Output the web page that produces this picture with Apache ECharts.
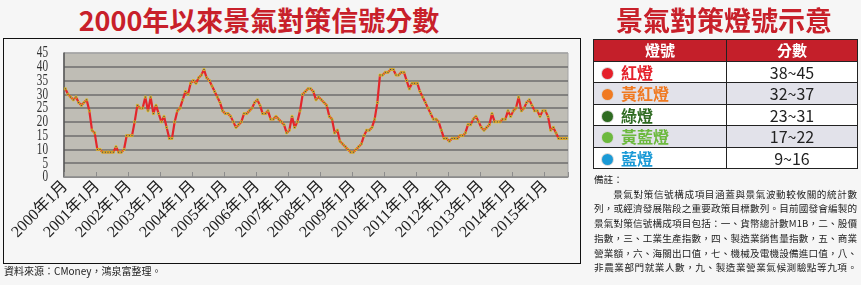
<!DOCTYPE html>
<html><head><meta charset="utf-8">
<script src="https://cdn.jsdelivr.net/npm/echarts@6/dist/echarts.min.js"></script>
<style>
html,body{margin:0;padding:0;background:#f6f6f6;width:861px;height:285px;overflow:hidden;font-family:"Noto Sans CJK TC","Noto Sans",sans-serif;}
.abs{position:absolute;}
#title1{left:0;top:3px;width:518px;text-align:center;font-size:27px;font-weight:bold;color:#c8202a;line-height:34px;}
#title2{left:590px;top:3px;width:268px;text-align:center;font-size:27px;font-weight:bold;color:#c8202a;line-height:34px;}
#frame{left:3px;top:38px;width:578px;height:226px;border:1.5px solid #111;box-sizing:border-box;}
#chart{left:0;top:0;width:861px;height:285px;}
#source{left:4px;top:264px;font-size:10px;color:#222;line-height:14px;}
#tbl{left:593px;top:39px;width:264px;border-collapse:collapse;table-layout:fixed;}
#tbl td,#tbl th{border:1.3px solid #222;padding:0;height:20.5px;line-height:20px;}
#tbl th{background:#c41f2a;color:#fff;font-size:15px;font-weight:bold;text-align:center;}
#tbl td.n{text-align:center;font-size:16px;color:#222;}
#tbl td.l{font-size:16px;font-weight:bold;padding-left:8px;}
.dot{display:inline-block;width:11px;height:11px;border-radius:50%;vertical-align:middle;margin-right:8px;position:relative;top:-1px;box-shadow:0 0 0 1px #d8d8d8;}
#note{left:594px;top:172px;width:263px;font-size:9.6px;color:#222;line-height:14.7px;}
#note div.j{text-align:justify;text-align-last:justify;white-space:nowrap;}
</style></head>
<body>
<div id="frame" class="abs"></div>
<div id="title1" class="abs">2000年以來景氣對策信號分數</div>
<div id="chart" class="abs"></div>
<div id="source" class="abs">資料來源：CMoney，鴻泉富整理。</div>
<div id="title2" class="abs">景氣對策燈號示意</div>
<table id="tbl" class="abs"></table>
<div id="note" class="abs"></div>
<script>
// ---- data ----
var score2000 = [32,30,29,28,29,27,26,27,28,24,17,16];
var score2001 = [10,10,9,9,9,9,9,11,9,9,10,15];
var score2002 = [15,15,20,26,25,25,29,24,29,23,26,23];
var score2003 = [20,22,18,14,14,20,24,25,28,31,30,34];
var score2004 = [35,34,36,37,39,36,35,33,31,29,27,24];
var score2005 = [23,23,22,20,18,19,20,23,23,24,25,27];
var score2006 = [28,26,23,23,24,21,21,22,21,20,19,16];
var score2007 = [17,22,18,20,24,30,31,32,32,31,28,29];
var score2008 = [28,27,26,22,21,16,17,13,12,11,10,9];
var score2009 = [9,10,11,12,15,17,17,18,21,27,37,37];
var score2010 = [38,38,39,39,37,37,38,38,35,32,34,34];
var score2011 = [34,31,29,27,25,23,21,21,20,17,14,14];
var score2012 = [13,14,14,14,15,15,16,19,19,21,22,20];
var score2013 = [18,17,18,19,23,20,20,20,21,21,24,22];
var score2014 = [24,25,29,24,25,27,28,26,24,24,22,24];
var score2015 = [24,22,17,18,16,14,14,14,14];
var startYear = 2000;
var yTicks = [0,5,10,15,20,25,30,35,40,45];

var lightNames = ['紅燈','黃紅燈','綠燈','黃藍燈','藍燈'];
var lightRanges = ['38~45','32~37','23~31','17~22','9~16'];
var lightHeader = ['燈號','分數'];
var noteTitle = '備註：';
var noteLines = [
 '景氣對策信號構成項目涵蓋與景氣波動較攸關的統計數',
 '列，或經濟發展階段之重要政策目標數列。目前國發會編製的',
 '景氣對策信號構成項目包括：一、貨幣總計數M1B，二、股價',
 '指數，三、工業生產指數，四、製造業銷售量指數，五、商業',
 '營業額，六、海關出口值，七、機械及電機設備進口值，八、',
 '非農業部門就業人數，九、製造業營業氣候測驗點等九項。'
];
// styles
var lightColors = ['#e5202a','#f07a22','#2f6b22','#6cb93e','#1b9ad6'];
var rowBg = ['#ffffff','#e2e2ea','#ffffff','#e2e2ea','#ffffff'];

// ---- build ----
var yearly = [score2000,score2001,score2002,score2003,score2004,score2005,score2006,score2007,score2008,score2009,score2010,score2011,score2012,score2013,score2014,score2015];
var values = [], cats = [];
yearly.forEach(function(arr, yi){
  arr.forEach(function(v, mi){ values.push(v); cats.push((startYear+yi)+'年'+(mi+1)+'月'); });
});

var t = document.getElementById('tbl');
var h = '<colgroup><col style="width:133px"><col style="width:131px"></colgroup><tr><th>'+lightHeader[0]+'</th><th>'+lightHeader[1]+'</th></tr>';
lightNames.forEach(function(n,i){
  h += '<tr style="background:'+rowBg[i]+'"><td class="l" style="color:'+lightColors[i]+'"><span class="dot" style="background:'+lightColors[i]+'"></span>'+n+'</td><td class="n">'+lightRanges[i]+'</td></tr>';
});
t.innerHTML = h;

var nt = '<div>'+noteTitle+'</div>';
noteLines.forEach(function(l,i){
  nt += '<div class="j" style="'+(i===0?'padding-left:2em;':'')+'">'+l+'</div>';
});
document.getElementById('note').innerHTML = nt;

var chart = echarts.init(document.getElementById('chart'), null, {renderer:'canvas'});
var gridCols = ['#8c8c8c','#6e6e6e','#6e6e6e','#6e6e6e','#6e6e6e','#6e6e6e','#6e6e6e','#6e6e6e','#6e6e6e','#a5a5a5'];
chart.setOption({
  animation:false,
  backgroundColor:'transparent',
  grid:{left:64,top:53,width:504,height:124,show:true,backgroundColor:'#bfbdb5',borderColor:'#a3a3a3',borderWidth:1},
  xAxis:{type:'category',data:cats,boundaryGap:true,
    axisLine:{show:true,lineStyle:{color:'#8c8c8c',width:1}},
    axisTick:{show:true,inside:true,length:5,interval:11,alignWithLabel:false,lineStyle:{color:'#8c8c8c'}},
    axisLabel:{interval:11,rotate:45,margin:7,fontFamily:'"Liberation Serif","Noto Sans CJK TC",serif',fontSize:16,color:'#222'}},
  yAxis:{type:'value',min:yTicks[0],max:yTicks[yTicks.length-1],interval:yTicks[1]-yTicks[0],
    axisLine:{show:true,lineStyle:{color:'#555',width:1.5}},
    axisTick:{show:false},
    splitLine:{show:true,lineStyle:{color:gridCols,width:1.5}},
    axisLabel:{show:false}},
  series:[{type:'line',data:values,symbol:'rect',symbolSize:2,showSymbol:true,showAllSymbol:true,
    lineStyle:{color:'#e3262b',width:2.2},
    itemStyle:{color:'#26306a',borderColor:'#f2c81b',borderWidth:0.8}}]
});
// condensed serif y-axis labels positioned by the axis scale
var yLabels = yTicks.map(function(v){
  var p = chart.convertToPixel({yAxisIndex:0}, v);
  return {type:'text', x:48, y:p, scaleX:0.68, scaleY:1, silent:true,
    style:{text:String(v), font:'16.5px "Liberation Serif", serif', fill:'#333', align:'right', verticalAlign:'middle'}};
});
chart.setOption({graphic:yLabels});
</script>
</body></html>
